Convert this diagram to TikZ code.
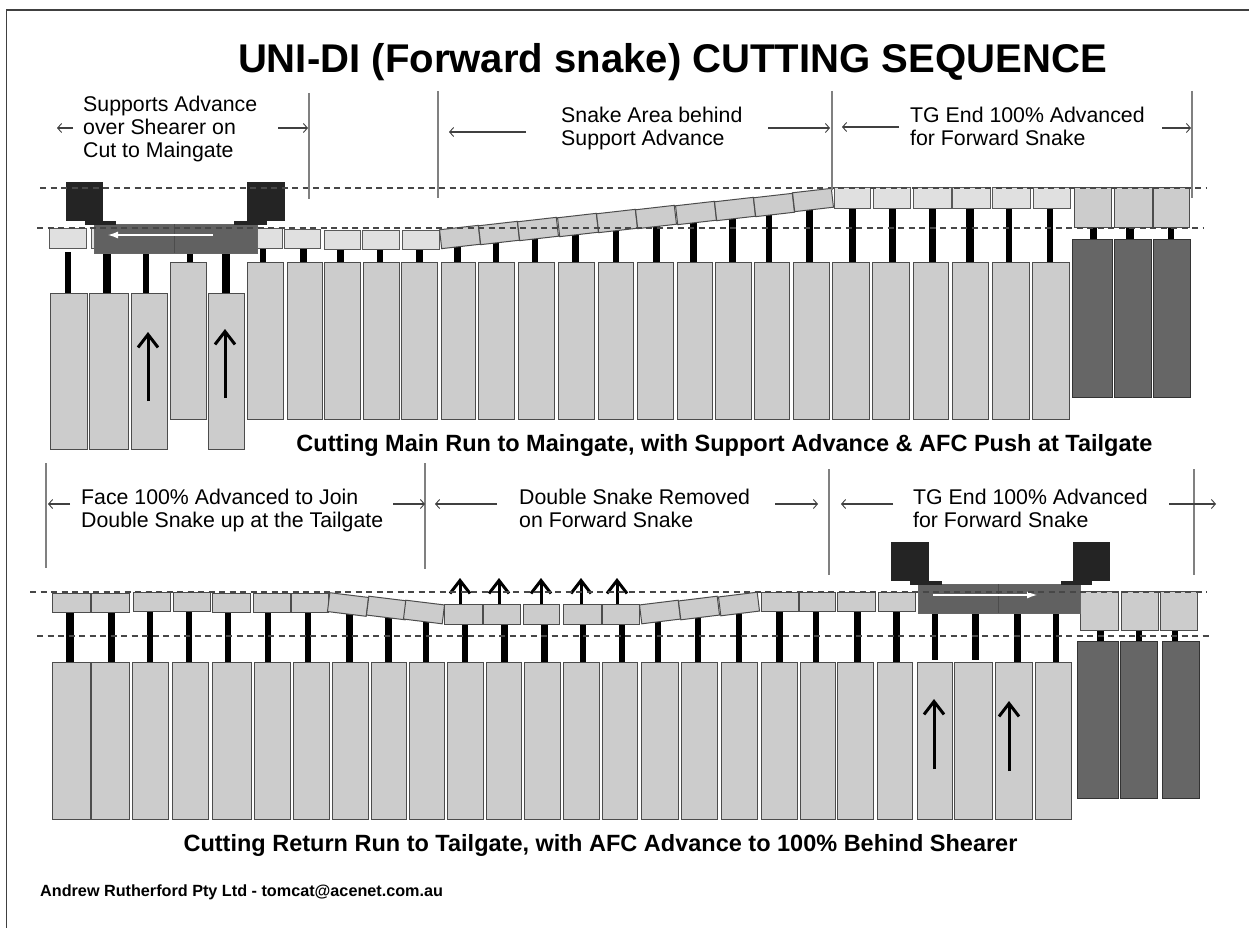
\documentclass[tikz,border=0pt]{standalone}
\usepackage{fontspec}
\setmainfont{Liberation Sans}
\usetikzlibrary{arrows.meta}

\begin{document}
\begin{tikzpicture}[
  x=1pt, y=-1pt,
  lbl/.style={anchor=north west, inner sep=0pt, align=left, font=\fontsize{21.3}{23}\selectfont},
  head/.style={inner sep=0pt, font=\bfseries\fontsize{23.5}{26}\selectfont},
  leg/.style={draw=black!70, fill=black!20, line width=1pt},
  gateleg/.style={draw=black!80, fill=black!60, line width=1pt},
  pan/.style={draw=black!65, fill=black!12, line width=1pt},
  bigpan/.style={draw=black!70, fill=black!20, line width=1pt},
  skew/.style={draw=black!70, fill=black!20, line width=1pt, minimum width=39pt, minimum height=19pt, inner sep=0pt},
  afc/.style={draw=black!60, fill=black!62, line width=0.6pt},
  drum/.style={fill=black!86},
  divide/.style={draw=black!72, line width=1.2pt, dash pattern=on 6pt off 4.5pt},
  limit/.style={draw=black!50, line width=1.2pt},
  dim/.style={draw=black!75, line width=1.1pt, -{Straight Barb[length=4pt,width=9pt,line width=0.9pt]}},
  bigarr/.style={line width=3pt, -{Straight Barb[length=13pt,width=20pt,line width=3pt]}},
  smallarr/.style={line width=3pt, -{Straight Barb[length=13pt,width=20pt,line width=3pt]}},
  whitearr/.style={draw=white, line width=1.2pt, -{Latex[length=10pt,width=7pt]}}
]
\useasboundingbox (0,0) rectangle (1249,928);
\fill[white] (0,0) rectangle (1249,928);
\draw[line width=1.4pt, black!75] (6.7,928) -- (6.7,10) -- (1249,10);

\node[inner sep=0pt, font=\bfseries\fontsize{40.1}{44}\selectfont] (title) at (672.5,62) {UNI-DI (Forward snake) CUTTING SEQUENCE};

% upper face
\foreach \a/\b in {170/206,247/283,287/322,324/360,363/399,401/437,441/475,478/514,518/554,558/594,598/633,637/673,677/712,715/751,754/789,793/829,832/869,872/909,913/948,952/988,992/1029,1032/1069}
  \draw[leg] (\a,262) rectangle (\b,419);
\foreach \a/\b in {50/87,89/128,131/167,208/244}
  \draw[leg] (\a,293) rectangle (\b,449);
\foreach \a/\b in {1072/1112,1114/1151,1153/1190}
  \draw[gateleg] (\a,239) rectangle (\b,397);
\foreach \x/\w/\t/\e in {68/6/252/293,107/8/252/293,146/6/252/293,226/8/252/293,190/6/252/262,263/6/248/262,303/7/248/262,340/7/248/262,380/6/248/262,419/7/248/262,457/7/240/262,496/6/240/262,535/6/236/262,575/7/232/262,616/6/228/262,656/7/224/262,693/7/220/262,732/7/216/262,769/6/212/262,809/7/208/262,852/7/206/262,892/7/206/262,932/7/206/262,970/8/206/262,1009/6/206/262,1050/6/206/262,1093/7/226/239,1130/8/226/239,1171/6/226/239}
  \fill (\x-\w/2,\t) rectangle (\x+\w/2,\e);
\foreach \a/\b/\t/\e in {49/86/228/248,91/110/228/248,257/282/228/248,284/320/229/248,324/360/230/249,362/399/230/249,402/439/230/249,834/870/188/208,873/910/188/208,913/951/188/208,952/990/188/208,992/1030/188/208,1033/1070/188/208}
  \draw[pan] (\a,\t) rectangle (\b,\e);
\foreach \x/\y [count=\i] in {460/237,499/233,538/229,578/225,617/221,656/217,696/213,735/209,774/205,813/200}
  \node[skew, rotate=6.5] (upskew\i) at (\x,\y) {};
\foreach \a/\b in {1074/1111,1114/1152,1153/1189}
  \draw[bigpan] (\a,188) rectangle (\b,227);
\draw[afc] (94,224) rectangle (257,253);
\draw[black!70] (174,224) -- (174,253);
\draw[whitearr] (213,235) -- (108,235);
\fill[drum] (66,182) rectangle (103,221);
\fill[drum] (247,182) rectangle (285,221);
\fill[drum] (85,221) rectangle (116,225);
\fill[drum] (234,221) rectangle (267,225);
\draw[bigarr] (148,401) -- (148,332);
\draw[bigarr] (225,398) -- (225,329);
\draw[divide] (40,188) -- (1206,188);
\draw[divide] (37,228) -- (1203,228);
\draw[limit] (309,93) -- (309,199);
\draw[limit] (438,91) -- (438,198);
\draw[limit] (832,91) -- (832,190);
\draw[limit] (1192,91) -- (1192,198);

\node[lbl] (supports) at (83,96) {Supports Advance\\over Shearer on\\Cut to Maingate};
\node[lbl] (snakearea) at (561,107) {Snake Area behind\\Support Advance};
\node[lbl] (tgupper) at (910,107) {TG End 100\% Advanced\\for Forward Snake};
\draw[dim] (73,128) -- (57,128);
\draw[dim] (278,128) -- (308,128);
\draw[dim] (526,132) -- (449,132);
\draw[dim] (768,128) -- (830,128);
\draw[dim] (899,127) -- (842,127);
\draw[dim] (1162,128) -- (1191,128);
\node[head] (mainrun) at (724.5,445) {Cutting Main Run to Maingate, with Support Advance \& AFC Push at Tailgate};

% lower face
\foreach \a/\b in {52/90,91/129,132/168,172/208,212/251,254/290,293/329,332/368,371/406,409/444,447/483,486/521,524/560,563/599,602/637,641/678,681/717,721/757,761/797,800/835,837/873,877/912,917/952,954/992,995/1032,1035/1071}
  \draw[leg] (\a,662) rectangle (\b,819);
\foreach \a/\b in {1077/1118,1120/1157,1162/1199}
  \draw[gateleg] (\a,641) rectangle (\b,798);
\foreach \x/\w/\t/\e in {70/8/610/662,111/7/610/662,150/6/610/662,189/6/610/662,228/6/610/662,268/6/610/662,308/6/610/662,349/7/612/662,388/7/616/662,426/6/620/662,465/6/622/662,504/7/622/662,544/7/622/662,583/6/622/662,622/6/622/662,658/6/620/662,698/6/616/662,739/6/610/662,779/7/610/662,816/6/610/662,857/7/610/662,896/7/610/662,935/6/612/660,975/7/612/660,1017/7/612/662,1056/6/612/662,1100/7/629/641,1139/6/629/641,1175/6/629/641}
  \fill (\x-\w/2,\t) rectangle (\x+\w/2,\e);
\foreach \a/\b/\t/\e in {52/90/593/612,91/129/593/612,133/170/592/611,173/210/592/611,212/250/593/612,253/290/593/612,291/328/593/612,444/482/604/624,483/520/604/624,523/559/604/624,563/601/604/624,602/639/604/624,761/798/592/611,799/835/592/611,837/875/592/611,878/915/592/611}
  \draw[bigpan] (\a,\t) rectangle (\b,\e);
\foreach \x/\y/\r [count=\i] in {348/604.5/-7,387/608/-7,424/612/-7,660/612/7,699/608/7,739/604/7}
  \node[skew, rotate=\r] (lowskew\i) at (\x,\y) {};
\foreach \a/\b in {1080/1118,1121/1158,1160/1197}
  \draw[bigpan] (\a,591) rectangle (\b,630);
\foreach \x [count=\i] in {460,499,541,581,617}
  \draw[smallarr] (\x,604) -- (\x,578);
\draw[afc] (918,584) rectangle (1080,613);
\draw[black!70] (998,584) -- (998,613);
\draw[whitearr] (933,595) -- (1037,595);
\fill[drum] (891,542) rectangle (929,581);
\fill[drum] (1073,542) rectangle (1110,581);
\fill[drum] (910,581) rectangle (942,585);
\fill[drum] (1061,581) rectangle (1092,585);
\draw[bigarr] (934,769) -- (934,699);
\draw[bigarr] (1009,771) -- (1009,701);
\draw[divide] (30,592) -- (1207,592);
\draw[divide] (37,636) -- (1213,636);
\draw[limit] (46,463) -- (46,568);
\draw[limit] (425,463) -- (425,569);
\draw[limit] (829,469) -- (829,575);
\draw[limit] (1194,469) -- (1194,575);

\node[lbl] (facejoin) at (81,489) {Face 100\% Advanced to Join\\Double Snake up at the Tailgate};
\node[lbl] (doublesnake) at (519,489) {Double Snake Removed\\on Forward Snake};
\node[lbl] (tglower) at (913,489) {TG End 100\% Advanced\\for Forward Snake};
\draw[dim] (70,504) -- (48,504);
\draw[dim] (393,504) -- (425,504);
\draw[dim] (497,504) -- (435,504);
\draw[dim] (775,504) -- (818,504);
\draw[dim] (893,504) -- (841,504);
\draw[dim] (1169,504) -- (1216,504);
\node[head] (returnrun) at (600.5,845) {Cutting Return Run to Tailgate, with AFC Advance to 100\% Behind Shearer};

\node[anchor=west, inner sep=0pt, font=\bfseries\fontsize{16.2}{18}\selectfont] (credit) at (40,892) {Andrew Rutherford Pty Ltd - tomcat@acenet.com.au};
\end{tikzpicture}
\end{document}
